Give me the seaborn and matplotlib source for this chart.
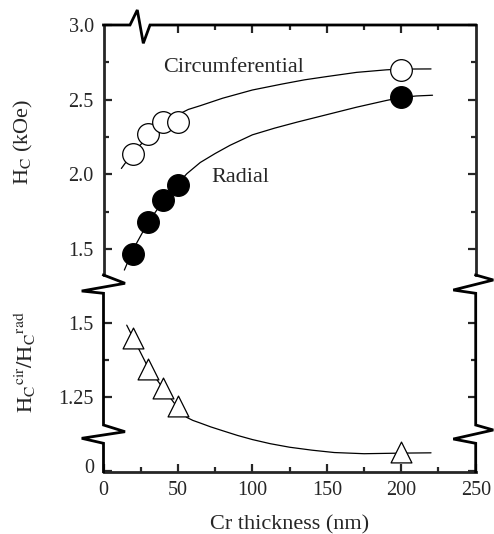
import matplotlib
matplotlib.use("Agg")
import matplotlib.pyplot as plt
import matplotlib.transforms as mtransforms
from matplotlib.lines import Line2D
from matplotlib.ticker import FixedLocator
import seaborn as sns

# ---------------- data ----------------
thickness = [20, 30, 40, 50, 200]
hc_circ = [2.14, 2.27, 2.35, 2.35, 2.70]
hc_rad = [1.47, 1.68, 1.83, 1.93, 2.52]
hc_ratio = [1.45, 1.345, 1.28, 1.22, 1.065]

circ_fit_x = [12, 20, 30, 40, 50, 57, 65, 80, 100, 120, 135, 150, 170, 190, 200, 220]
circ_fit_y = [2.04, 2.15, 2.25, 2.335, 2.40, 2.435, 2.46, 2.51, 2.565, 2.605, 2.633, 2.655,
              2.683, 2.70, 2.705, 2.706]

rad_fit_x = [14, 20, 30, 40, 50, 56, 65, 75, 85, 100, 115, 130, 150, 170, 190, 200, 210, 221]
rad_fit_y = [1.36, 1.50, 1.68, 1.82, 1.94, 2.005, 2.08, 2.14, 2.195, 2.265, 2.31, 2.35,
             2.40, 2.45, 2.495, 2.515, 2.525, 2.53]

ratio_fit_x = [15.6, 20, 30, 40, 50, 53, 56, 60, 65, 72, 80, 90, 100, 112, 125, 140, 155,
               175, 200, 220]
ratio_fit_y = [1.494, 1.45, 1.35, 1.28, 1.213, 1.195, 1.181, 1.171, 1.162, 1.149, 1.136,
               1.12, 1.106, 1.092, 1.08, 1.07, 1.062, 1.058, 1.060, 1.061]

top_yticks = [1.5, 2.0, 2.5, 3.0]
top_yticklabels = ["1.5", "2.0", "2.5", "3.0"]
bot_yticks = [1.0, 1.25, 1.5]
bot_yticklabels = ["0", "1.25", "1.5"]
xticks = [0, 50, 100, 150, 200, 250]
xticklabels = ["0", "50", "100", "150", "200", "250"]

# ---------------- style ----------------
sns.set_style("ticks")
plt.rcParams["font.family"] = ["Liberation Serif", "DejaVu Serif"]
plt.rcParams["mathtext.fontset"] = "stix"

W, H = 494, 534
fig = plt.figure(figsize=(W / 100, H / 100), dpi=100)
fig.patch.set_facecolor("white")

L, R = 103.5, 475.7
def fx(px):
    return px / W
def fy(py):
    return 1 - py / H

ax1 = fig.add_axes([fx(L), fy(275), fx(R) - fx(L), fy(25) - fy(275)])
ax2 = fig.add_axes([fx(L), fy(471.7), fx(R) - fx(L), fy(293.3) - fy(471.7)])
for ax in (ax1, ax2):
    ax.set_facecolor("none")

LW_FIT = 0.9
SPINE = 2.0
TICKFS = 14.5

# ---------------- top panel ----------------
sns.lineplot(x=circ_fit_x, y=circ_fit_y, ax=ax1, color="black", lw=LW_FIT,
             sort=False, estimator=None, zorder=2)
sns.lineplot(x=rad_fit_x, y=rad_fit_y, ax=ax1, color="black", lw=LW_FIT,
             sort=False, estimator=None, zorder=2)
sns.scatterplot(x=thickness, y=hc_circ, ax=ax1, marker="o", s=15.6 ** 2,
                color="white", edgecolor="black", linewidth=0.9, zorder=3)
sns.scatterplot(x=thickness, y=hc_rad, ax=ax1, marker="o", s=15.6 ** 2,
                color="black", edgecolor="black", linewidth=0.9, zorder=3)

ax1.set_xlim(0, 250)
ax1.set_ylim(1.327, 3.0)
ax1.set_yticks(top_yticks)
ax1.set_yticklabels(top_yticklabels)
ax1.yaxis.set_minor_locator(FixedLocator([1.75, 2.25, 2.75]))
ax1.xaxis.set_major_locator(FixedLocator([50, 100, 150, 200]))
ax1.xaxis.set_minor_locator(FixedLocator([75, 125, 175, 225]))
ax1.tick_params(axis="x", which="both", direction="in", top=True, bottom=False,
                labeltop=False, labelbottom=False)
ax1.tick_params(axis="y", which="both", direction="in", left=True, right=True,
                labelsize=TICKFS, pad=7)
ax1.tick_params(which="major", length=6, width=1.6)
ax1.tick_params(which="minor", length=3.4, width=1.6)
ax1.spines["bottom"].set_visible(False)
ax1.spines["top"].set_visible(False)
for s in ("left", "right"):
    ax1.spines[s].set_linewidth(SPINE)
    ax1.spines[s].set_capstyle("projecting")

ax1.text(40, 2.686, "Circumferential", fontsize=16, ha="left", va="baseline")
ax1.text(72.7, 1.947, "Radial", fontsize=16, ha="left", va="baseline")

ax1.set_ylabel(r"H$_\mathrm{C}$ (kOe)", fontsize=16)
ax1.yaxis.set_label_coords(-0.184, 0.534)

# ---------------- bottom panel ----------------
sns.lineplot(x=ratio_fit_x, y=ratio_fit_y, ax=ax2, color="black", lw=LW_FIT,
             sort=False, estimator=None, zorder=2)
sns.scatterplot(x=thickness, y=hc_ratio, ax=ax2, marker="^", s=15.0 ** 2,
                color="white", edgecolor="black", linewidth=0.9, zorder=3)

ax2.set_xlim(0, 250)
ax2.set_ylim(0.997, 1.602)
ax2.set_yticks(bot_yticks)
ax2.set_yticklabels(bot_yticklabels)
ax2.yaxis.set_minor_locator(FixedLocator([1.375]))
ax2.set_xticks(xticks)
ax2.set_xticklabels(xticklabels)
ax2.xaxis.set_minor_locator(FixedLocator([25, 75, 125, 175, 225]))
ax2.tick_params(axis="x", which="both", direction="in", top=False, bottom=True,
                labelsize=TICKFS, pad=7)
ax2.tick_params(axis="y", which="both", direction="in", left=True, right=True,
                labelsize=TICKFS, pad=7)
ax2.tick_params(which="major", length=6, width=1.6)
ax2.tick_params(which="minor", length=3.4, width=1.6)
ax2.spines["top"].set_visible(False)
ax2.spines["left"].set_visible(False)
ax2.spines["right"].set_visible(False)
ax2.spines["bottom"].set_linewidth(SPINE)
ax2.spines["bottom"].set_capstyle("projecting")

offset = mtransforms.ScaledTranslation(0, 0.045, fig.dpi_scale_trans)
lab0 = ax2.get_yticklabels()[0]
lab0.set_transform(lab0.get_transform() + offset)

ax2.set_ylabel(r"$\mathrm{H_C{}^{cir}/H_C{}^{rad}}$", fontsize=16)
ax2.yaxis.set_label_coords(-0.176, 0.615)
ax2.set_xlabel("Cr thickness (nm)", fontsize=16, labelpad=11)

# ---------------- axis frame with break marks ----------------
def figline(xs, ys, lw):
    fig.add_artist(Line2D([fx(x) for x in xs], [fy(y) for y in ys],
                          transform=fig.transFigure, color="black", lw=lw,
                          solid_joinstyle="miter", solid_capstyle="projecting"))

# top spine with zigzag
figline([L, 130, 137.3, 143.3, 150, R], [25, 25, 10, 43.3, 25, 25], SPINE)
# left side: break, lower spine, break
figline([L, 125, 81.7, L, L, 125, 81.7, L, L],
        [275, 283.3, 291, 293.3, 425, 431.7, 438.3, 443.3, 471.7], SPINE)
# right side
figline([R, 493.3, 453.3, R, R, 493.3, 453.3, R, R],
        [275, 280, 290, 293.3, 425, 430, 439, 443.3, 471.7], SPINE)

fig.savefig("out.png", dpi=100, facecolor="white")
